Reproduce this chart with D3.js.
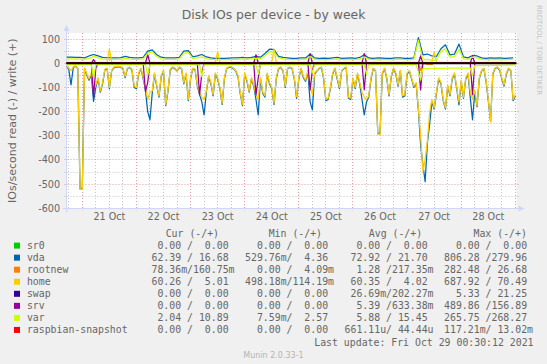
<!DOCTYPE html>
<html><head><meta charset="utf-8">
<script src="https://cdn.jsdelivr.net/npm/d3@7"></script>
<style>
html,body{margin:0;padding:0;background:#F0F0F0;}
svg{display:block;}
text{font-family:"DejaVu Sans",sans-serif;fill:#666;}
.mono{font-family:"DejaVu Sans Mono",monospace;white-space:pre;}
</style></head><body>
<svg id="c" width="547" height="364"></svg>
<script>
// ---------- DATA ----------
const title = "Disk IOs per device - by week";
const yLabel = "IOs/second read (-) / write (+)";
const startUTC = Date.UTC(2021, 9, 20, 17, 0);
const endUTC = Date.UTC(2021, 9, 29, 0, 30);
const yMajorTicks = [100, 0, -100, -200, -300, -400, -500, -600];
const yMinorTicks = [50, -50, -150, -250, -350, -450, -550];
const dayLabels = ["21 Oct", "22 Oct", "23 Oct", "24 Oct", "25 Oct", "26 Oct", "27 Oct", "28 Oct"];
const dayNumbers = [21, 22, 23, 24, 25, 26, 27, 28];

const devices = ["sr0", "vda", "rootnew", "home", "swap", "srv", "var", "raspbian-snapshot"];
const deviceColors = ["#00CC00", "#0066B3", "#FF8000", "#FFCC00", "#330099", "#990099", "#CCFF00", "#FF0000"];

// hourly samples (from 20 Oct 17:00), reads shown negative
const homeRead = [
 -10,-20,-30,-15,-10,-20,-522,-522,-20,-45,
 -65,-40,-110,-90,-60,-115,-80,-25,-20,-100,
 -30,-15,-15,-12,-15,-20,-55,-20,-15,-25,
 -95,-100,-40,-20,-60,-100,-150,-120,-115,-40,
 -90,-135,-50,-30,-170,-110,-25,-15,-20,-30,
 -15,-20,-80,-40,-150,-60,-20,-25,-90,-120,
 -140,-150,-115,-50,-80,-130,-40,-60,-100,-165,
 -60,-20,-15,-15,-20,-30,-50,-120,-170,-40,
 -70,-115,-60,-90,-130,-150,-60,-120,-135,-40,
 -80,-100,-165,-60,-20,-15,-30,-95,-20,-15,
 -20,-60,-138,-60,-20,-55,-70,-30,-100,-130,
 -40,-30,-20,-15,-60,-150,-145,-100,-40,-20,
 -60,-100,-30,-20,-15,-140,-145,-60,-100,-40,
 -80,-120,-140,-150,-135,-60,-20,-30,-294,-294,
 -40,-20,-60,-130,-50,-20,-40,-90,-30,-135,
 -130,-40,-30,-60,-95,-80,-190,-300,-448,-400,
 -320,-200,-150,-185,-120,-60,-80,-150,-185,-90,
 -130,-60,-40,-100,-160,-70,-140,-60,-40,-120,
 -150,-110,-175,-60,-30,-20,-70,-150,-244,-40,
 -20,-15,-25,-60,-90,-40,-20,-30,-150,-130
];
const vdaRead = [
 -12,-25,-90,-18,-12,-22,-520,-520,-22,-50,
 -70,-50,-158,-100,-65,-120,-85,-28,-22,-105,
 -32,-18,-17,-14,-17,-22,-60,-22,-17,-28,
 -100,-105,-45,-22,-65,-110,-200,-234,-125,-45,
 -95,-140,-55,-32,-175,-115,-28,-17,-22,-32,
 -17,-22,-85,-45,-155,-65,-22,-28,-95,-130,
 -160,-214,-120,-55,-85,-135,-45,-65,-105,-170,
 -65,-22,-17,-17,-22,-32,-55,-125,-175,-45,
 -75,-120,-65,-95,-150,-214,-65,-125,-140,-45,
 -85,-105,-170,-65,-22,-17,-32,-100,-22,-17,
 -22,-65,-145,-65,-22,-60,-75,-35,-160,-193,
 -45,-32,-22,-17,-65,-155,-150,-105,-45,-22,
 -65,-105,-32,-22,-17,-145,-150,-65,-105,-45,
 -85,-150,-214,-160,-140,-65,-22,-32,-290,-290,
 -45,-22,-65,-135,-55,-22,-45,-95,-32,-140,
 -135,-45,-32,-65,-100,-85,-193,-338,-420,-490,
 -330,-250,-160,-190,-125,-65,-85,-155,-190,-95,
 -135,-65,-45,-105,-172,-75,-145,-65,-45,-140,
 -234,-120,-180,-65,-32,-22,-75,-155,-240,-45,
 -22,-17,-28,-65,-95,-45,-22,-32,-155,-135
];
// two-hourly samples
const vdaWrite = [
 25,25,24,24,22,30,36,30,24,23,
 22,22,23,28,24,22,22,24,50,55,
 35,25,22,22,22,24,50,52,26,30,
 36,26,22,20,20,20,21,22,22,24,
 22,24,28,25,40,58,56,28,24,22,
 20,20,22,22,38,22,20,21,20,22,
 24,20,21,22,20,24,35,22,20,22,
 21,20,20,22,22,20,20,22,106,35,
 38,30,28,60,76,35,38,79,26,22,
 32,30,22,20,22,21,22,20,21,22
];
const varWrite = [
 18,18,17,17,16,20,28,22,17,16,
 16,16,16,20,17,16,16,18,42,48,
 28,18,16,16,16,18,42,44,20,22,
 26,18,16,15,15,15,15,16,16,18,
 16,18,20,18,32,48,46,22,18,16,
 15,15,16,16,28,16,15,15,15,16,
 18,15,15,16,15,18,26,16,15,16,
 15,15,15,16,16,15,15,16,95,14,
 16,12,14,50,60,24,28,58,18,16,
 25,22,16,15,16,15,16,15,15,16
];
// sparse samples: [hour since start, value]
const homeWrite = [[0,4],[18,4],[19,59],[20,4],[66,4],[67,48],[68,4],[91,4],[92,59],[93,4],[162,4],[163,48],[164,4],[199,4]];
const srvRead = [[0,0],[11,0],[12,-138],[13,-20],[14,0],[34,0],[35,-117],[36,-80],[37,0],[58,0],[59,-131],[60,-40],[61,0],[83,0],[84,-131],[85,-60],[86,0],[107,0],[108,-110],[109,-30],[110,0],[131,0],[132,-110],[133,0],[156,0],[157,-110],[158,0],[179,0],[180,-130],[181,0],[199,0]];
const srvWrite = [[0,0],[11,0],[12,15],[13,0],[35,0],[36,35],[37,0],[83,0],[84,35],[85,0],[107,0],[108,40],[109,0],[131,0],[132,40],[133,0],[156,0],[157,30],[158,0],[179,0],[180,30],[181,0],[199,0]];
const varRead = [[0,-6],[11,-6],[12,-60],[13,-6],[35,-6],[36,-50],[37,-6],[59,-6],[60,-55],[61,-6],[84,-6],[85,-45],[86,-6],[108,-6],[109,-40],[110,-6],[132,-6],[133,-45],[134,-6],[155,-6],[157,-70],[158,-22],[170,-20],[179,-20],[180,-50],[181,-10],[199,-7]];
const rootnewRead = [[0,0],[156,0],[157,-30],[158,0],[160,-5],[162,-5],[163,0],[199,0]];
const flatZero = [[0,0],[199,0]];

// legend statistics (read/write)
const curStats = ["  0.00 /  0.00 ", " 62.39 / 16.68 ", " 78.36m/160.75m", " 60.26 /  5.01 ", "  0.00 /  0.00 ", "  0.00 /  0.00 ", "  2.04 / 10.89 ", "  0.00 /  0.00 "];
const minStats = ["  0.00 /  0.00 ", "529.76m/  4.36 ", "  0.00 /  4.09m", "498.18m/114.19m", "  0.00 /  0.00 ", "  0.00 /  0.00 ", "  7.59m/  2.57 ", "  0.00 /  0.00 "];
const avgStats = ["  0.00 /  0.00 ", " 72.92 / 21.70 ", "  1.28 /217.35m", " 60.35 /  4.02 ", " 26.69m/202.27m", "  5.39 /633.38m", "  5.88 / 15.45 ", "661.11u/ 44.44u"];
const maxStats = ["  0.00 /  0.00 ", "806.28 /279.96 ", "282.48 / 26.68 ", "687.92 / 70.49 ", "  5.33 / 21.25 ", "489.86 /156.89 ", "265.75 /268.27 ", "117.21m/ 13.02m"];
const statHeaders = ["Cur (-/+)", "Min (-/+)", "Avg (-/+)", "Max (-/+)"];
const lastUpdate = "Last update: Fri Oct 29 00:30:12 2021";
const versionText = "Munin 2.0.33-1";
const watermark = "RRDTOOL / TOBI OETIKER";

// ---------- DRAW ----------
const HOUR = 3600e3;
const svg = d3.select("#c");
const PL = 66.5, PR = 516.5, PT = 33, PB = 208.3;
const x = d3.scaleUtc().domain([new Date(startUTC), new Date(endUTC)]).range([PL, PR]);
const y = d3.scaleLinear().domain([-600, 125]).range([PB, PT]);
const snap = v => Math.round(v - 0.5) + 0.5;

svg.append("rect").attr("width", 547).attr("height", 364).attr("fill", "#F0F0F0");
svg.append("rect").attr("x", PL).attr("y", PT).attr("width", PR - PL).attr("height", PB - PT).attr("fill", "#FFFFFF");

const gridC = "rgba(140,140,140,0.5)";
const mgridC = "rgba(210,40,40,0.45)";
const g = svg.append("g");
yMinorTicks.forEach(v => {
  const yy = snap(y(v));
  g.append("line").attr("x1", PL - 2).attr("x2", PR + 2).attr("y1", yy).attr("y2", yy)
    .attr("stroke", gridC).attr("stroke-dasharray", "1,2");
});
yMajorTicks.forEach(v => {
  const yy = snap(y(v));
  g.append("line").attr("x1", PL - 2).attr("x2", PR + 2).attr("y1", yy).attr("y2", yy)
    .attr("stroke", mgridC).attr("stroke-dasharray", "1,2");
});
const minorTimes = d3.utcHour.every(6).range(new Date(startUTC), new Date(endUTC)).filter(d => d.getUTCHours() !== 0);
minorTimes.forEach(d => {
  const xx = snap(x(d));
  g.append("line").attr("x1", xx).attr("x2", xx).attr("y1", PT).attr("y2", PB + 2)
    .attr("stroke", gridC).attr("stroke-dasharray", "1,2");
});
const dayTimes = d3.utcDay.range(new Date(startUTC), new Date(endUTC));
dayTimes.forEach(d => {
  const xx = snap(x(d));
  g.append("line").attr("x1", xx).attr("x2", xx).attr("y1", PT).attr("y2", PB + 2)
    .attr("stroke", mgridC).attr("stroke-dasharray", "1,2");
});

const axisC = "#CFD6F8";
const by = snap(y(-600));
svg.append("line").attr("x1", PL - 4).attr("x2", PR + 4).attr("y1", by).attr("y2", by).attr("stroke", axisC);
svg.append("line").attr("x1", PL).attr("x2", PL).attr("y1", by + 4).attr("y2", PT - 4).attr("stroke", axisC);
svg.append("path").attr("d", `M${PL-3},${PT-2} L${PL+3},${PT-2} L${PL},${PT-8} Z`).attr("fill", axisC);
svg.append("path").attr("d", `M${PR+2},${by-3} L${PR+2},${by+3} L${PR+8},${by} Z`).attr("fill", axisC);

svg.append("clipPath").attr("id", "pc").append("rect")
  .attr("x", PL).attr("y", PT).attr("width", PR - PL).attr("height", PB - PT);
const line = d3.line().x(d => x(d[0])).y(d => y(d[1]));
const regular = (arr, stepH) => arr.map((v, i) => [new Date(startUTC + i * stepH * HOUR), v]);
const sparse = arr => arr.map(p => [new Date(startUTC + p[0] * HOUR), p[1]]);
const seriesOrder = [
  [0, sparse(flatZero)], [0, sparse(flatZero)],
  [1, regular(vdaRead, 1)], [1, regular(vdaWrite, 2)],
  [2, sparse(rootnewRead)], [2, sparse(flatZero)],
  [3, regular(homeRead, 1)], [3, sparse(homeWrite)],
  [4, sparse(flatZero)], [4, sparse(flatZero)],
  [5, sparse(srvRead)], [5, sparse(srvWrite)],
  [6, sparse(varRead)], [6, regular(varWrite, 2)],
  [7, sparse(flatZero)], [7, sparse(flatZero)]
];
const sg = svg.append("g").attr("clip-path", "url(#pc)");
seriesOrder.forEach(([ci, pts]) => {
  sg.append("path").attr("d", line(pts)).attr("fill", "none")
    .attr("stroke", deviceColors[ci]).attr("stroke-width", 1.25).attr("stroke-linejoin", "round");
});
const zy = y(0);
svg.append("line").attr("x1", PL).attr("x2", PR).attr("y1", zy).attr("y2", zy).attr("stroke", "#000").attr("stroke-width", 2);

yMajorTicks.forEach(v => {
  svg.append("text").attr("x", 60).attr("y", snap(y(v))).attr("dy", "0.36em")
    .attr("text-anchor", "end").attr("font-size", "9.6px").text(v);
});
dayLabels.forEach((lab, i) => {
  svg.append("text").attr("x", x(new Date(Date.UTC(2021, 9, dayNumbers[i], 12)))).attr("y", 220)
    .attr("text-anchor", "middle").attr("font-size", "9.6px").text(lab);
});

svg.append("text").attr("x", 273.5).attr("y", 18.8).attr("text-anchor", "middle")
  .attr("font-size", "12.4px").text(title);
svg.append("text").attr("transform", `translate(15.5,${(PT + PB) / 2}) rotate(-90)`)
  .attr("text-anchor", "middle").attr("font-size", "11px").text(yLabel);
svg.append("text").attr("transform", "translate(537,5) rotate(90)")
  .attr("font-size", "7px").style("fill", "#C4C4C4").text(watermark);

const LF = "9.85px";
const headX = [165.7, 268.7, 368.8, 473.5];
const colEnd = [234.5, 334, 433.5, 533];
const cols = [curStats, minStats, avgStats, maxStats];
statHeaders.forEach((h, i) => {
  svg.append("text").attr("class", "mono").attr("x", headX[i]).attr("y", 237)
    .attr("font-size", LF).text(h);
});
devices.forEach((name, i) => {
  const cy = 245.6 + i * 12.05;
  svg.append("rect").attr("x", 14).attr("y", cy - 3).attr("width", 6).attr("height", 6)
    .attr("fill", deviceColors[i]);
  svg.append("text").attr("class", "mono").attr("x", 26.9).attr("y", cy + 3.5)
    .attr("font-size", LF).text(name);
  cols.forEach((col, c) => {
    svg.append("text").attr("class", "mono").attr("x", colEnd[c]).attr("y", cy + 3.5)
      .attr("text-anchor", "end").attr("font-size", LF).text(col[i]);
  });
});
svg.append("text").attr("class", "mono").attr("x", 533.5).attr("y", 345.5)
  .attr("text-anchor", "end").attr("font-size", LF).text(lastUpdate);
svg.append("text").attr("x", 273.5).attr("y", 358).attr("text-anchor", "middle")
  .attr("font-size", "8px").style("fill", "#B4B4B4").text(versionText);
</script></body></html>
